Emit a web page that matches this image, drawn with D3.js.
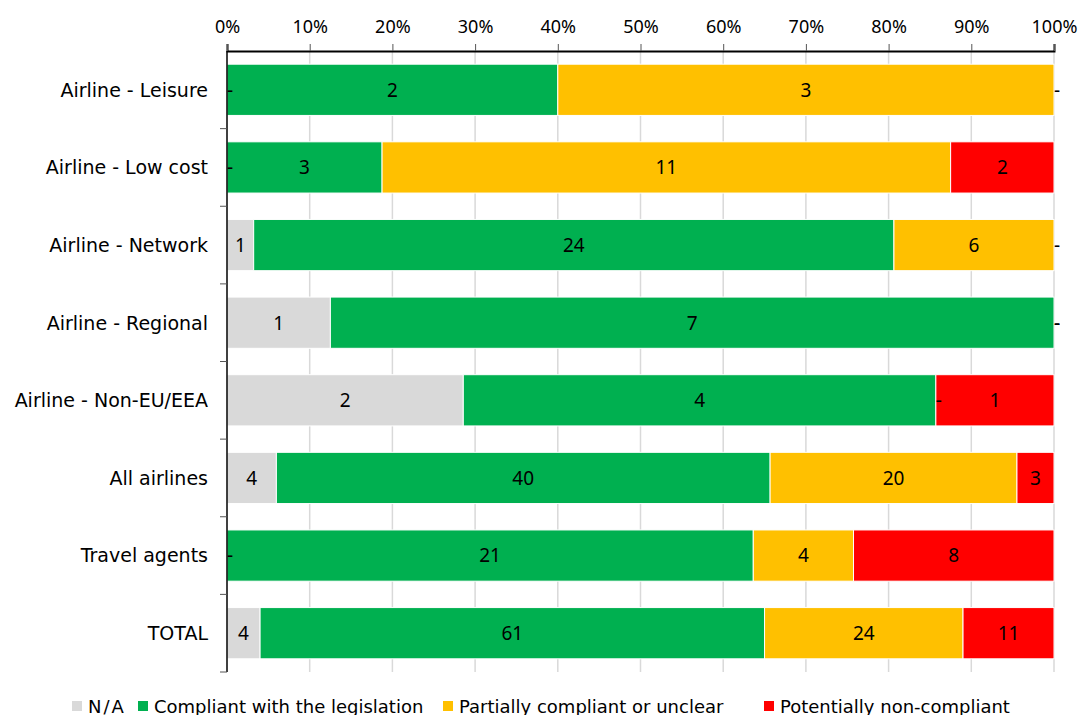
<!DOCTYPE html>
<meta charset="utf-8">
<style>
  body { margin: 0; background: #fff; }
  .cat { font-family: "DejaVu Sans", sans-serif; font-size: 19px; fill: #000; }
  .val { font-family: "Noto Sans", sans-serif; font-size: 19px; fill: #000; }
  .tick text { font-family: "Noto Sans", sans-serif; font-size: 18px; fill: #000; }
  .legend text { font-family: "DejaVu Sans", sans-serif; font-size: 18px; fill: #000; }
</style>
<svg width="1080" height="715"></svg>
<script src="https://cdn.jsdelivr.net/npm/d3@7"></script>
<script>
var categories = ["Airline - Leisure", "Airline - Low cost", "Airline - Network", "Airline - Regional",
                  "Airline - Non-EU/EEA", "All airlines", "Travel agents", "TOTAL"];
var seriesNames = ["N/A", "Compliant with the legislation", "Partially compliant or unclear", "Potentially non-compliant"];
var seriesColors = ["#d9d9d9", "#00b050", "#ffc000", "#ff0000"];
var naValues        = [0, 0, 1, 1, 2, 4, 0, 4];
var compliantValues = [2, 3, 24, 7, 4, 40, 21, 61];
var partialValues   = [3, 11, 6, 0, 0, 20, 4, 24];
var nonCompValues   = [0, 2, 0, 0, 1, 3, 8, 11];
var tickValues = [0, 0.1, 0.2, 0.3, 0.4, 0.5, 0.6, 0.7, 0.8, 0.9, 1];

var svg = d3.select("svg");
var margin = {left: 227, right: 26, top: 51, bottom: 43};
var width = 1080 - margin.left - margin.right,
    height = 715 - margin.top - margin.bottom;

var table = categories.map(function(c, i) {
  var vals = [naValues[i], compliantValues[i], partialValues[i], nonCompValues[i]];
  return {cat: c, vals: vals, total: d3.sum(vals)};
});

var x = d3.scaleLinear().domain([0, 1]).range([0, width]);
var y = d3.scaleBand().domain(categories).range([0, height]).paddingInner(0.34).paddingOuter(0.17);

var g = svg.append("g").attr("transform", "translate(" + margin.left + "," + margin.top + ")");

// gridlines
g.selectAll("line.grid")
  .data(tickValues.slice(1))
  .enter().append("line")
    .attr("x1", function(d) { return x(d); })
    .attr("x2", function(d) { return x(d); })
    .attr("y1", 0).attr("y2", height)
    .attr("stroke", "#d9d9d9").attr("stroke-width", 1.5);

// segments with start/end share
var segs = [];
table.forEach(function(row) {
  var acc = 0;
  row.vals.forEach(function(v, k) {
    segs.push({cat: row.cat, k: k, v: v, x0: acc / row.total, x1: (acc + v) / row.total});
    acc += v;
  });
});

g.selectAll("rect.seg")
  .data(segs.filter(function(s) { return s.v > 0; }))
  .enter().append("rect")
    .attr("x", function(s) { return x(s.x0); })
    .attr("width", function(s) { return x(s.x1) - x(s.x0); })
    .attr("y", function(s) { return y(s.cat); })
    .attr("height", y.bandwidth())
    .attr("fill", function(s) { return seriesColors[s.k]; })
    .attr("stroke", "#fff").attr("stroke-width", 1);

g.selectAll("text.val")
  .data(segs)
  .enter().append("text")
    .attr("class", "val")
    .attr("x", function(s) { return s.v > 0 ? (x(s.x0) + x(s.x1)) / 2 : x(s.x0) + 3; })
    .attr("y", function(s) { return y(s.cat) + y.bandwidth() / 2; })
    .attr("dy", "0.36em")
    .attr("text-anchor", "middle")
    .text(function(s) { return s.v > 0 ? s.v : "-"; });

// top axis
var xAxis = g.append("g")
  .call(d3.axisTop(x).tickValues(tickValues).tickFormat(d3.format(".0%")).tickSize(7).tickPadding(11));
xAxis.select(".domain").attr("stroke", "#000").attr("stroke-width", 2);
xAxis.selectAll(".tick line").attr("stroke", "#555");

// left axis
g.append("line").attr("x1", 0).attr("x2", 0).attr("y1", 0).attr("y2", height)
  .attr("stroke", "#000").attr("stroke-width", 1.5);
var bounds = d3.range(1, categories.length + 1).map(function(i) { return i * height / categories.length; });
g.selectAll("line.ytick").data(bounds).enter().append("line")
  .attr("x1", -7).attr("x2", 0)
  .attr("y1", function(d) { return d; }).attr("y2", function(d) { return d; })
  .attr("stroke", "#555");

g.selectAll("text.cat").data(categories).enter().append("text")
  .attr("class", "cat")
  .attr("x", -19)
  .attr("y", function(d) { return y(d) + y.bandwidth() / 2; })
  .attr("dy", "0.36em")
  .attr("text-anchor", "end")
  .text(function(d) { return d; });

// legend
var legendX = [72, 138, 443, 764];
var legend = svg.append("g").attr("class", "legend");
seriesNames.forEach(function(n, k) {
  legend.append("rect").attr("x", legendX[k]).attr("y", 701).attr("width", 10).attr("height", 10)
    .attr("fill", seriesColors[k]);
  legend.append("text").attr("x", legendX[k] + 16).attr("y", 713)
    .attr("letter-spacing", k === 0 ? "2px" : "0px")
    .text(n);
});
</script>
